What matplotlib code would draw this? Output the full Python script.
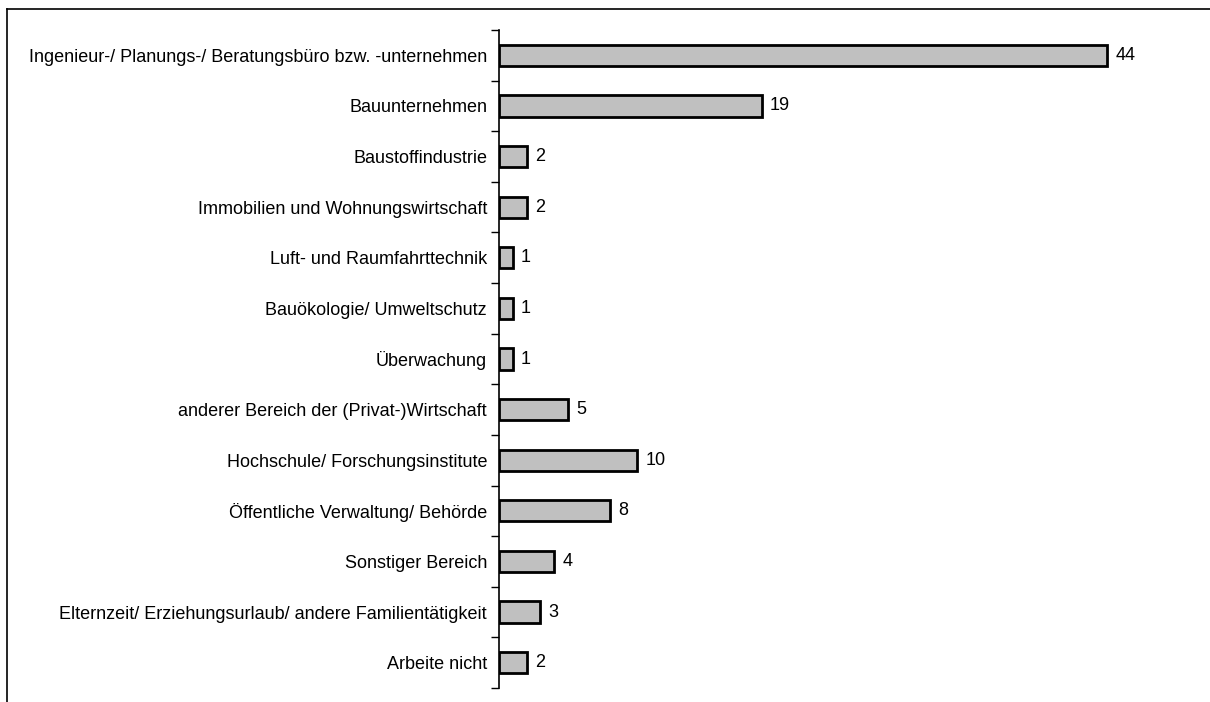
import numpy as np
import matplotlib
matplotlib.use("Agg")
import matplotlib.pyplot as plt
from matplotlib.lines import Line2D

categories = [
    "Ingenieur-/ Planungs-/ Beratungsbüro bzw. -unternehmen",
    "Bauunternehmen",
    "Baustoffindustrie",
    "Immobilien und Wohnungswirtschaft",
    "Luft- und Raumfahrttechnik",
    "Bauökologie/ Umweltschutz",
    "Überwachung",
    "anderer Bereich der (Privat-)Wirtschaft",
    "Hochschule/ Forschungsinstitute",
    "Öffentliche Verwaltung/ Behörde",
    "Sonstiger Bereich",
    "Elternzeit/ Erziehungsurlaub/ andere Familientätigkeit",
    "Arbeite nicht",
]
values = [44, 19, 2, 2, 1, 1, 1, 5, 10, 8, 4, 3, 2]

plt.rcParams['font.family'] = ['Liberation Sans', 'DejaVu Sans']

fig = plt.figure(figsize=(12.1, 7.02), dpi=100)
W, H = 1210, 702
left, right, top, bottom = 499, 1190, 30, 688
ax = fig.add_axes([left / W, 1 - bottom / H, (right - left) / W, (bottom - top) / H])

y = np.arange(len(categories))
ax.barh(y, values, height=0.42, color="#c0c0c0", edgecolor="black", linewidth=2.0)
for yi, v in zip(y, values):
    ax.text(v + 0.6, yi, str(v), va="center", ha="left", fontsize=13)

ax.set_xlim(0, 50)
ax.set_ylim(len(categories) - 0.5, -0.5)
ax.set_yticks(y)
ax.set_yticklabels(categories, fontsize=13)
ax.tick_params(axis="y", which="major", length=0, pad=8.6)
ax.set_yticks(np.arange(len(categories) + 1) - 0.5, minor=True)
ax.tick_params(axis="y", which="minor", length=6, width=1, direction="out")
ax.set_xticks([])
for s in ["top", "right", "bottom"]:
    ax.spines[s].set_visible(False)
ax.spines["left"].set_linewidth(1.2)

# outer frame (only top and left visible in the reference)
fig.add_artist(Line2D([7 / W, 7 / W], [0, 1 - 9 / H], transform=fig.transFigure, color="black", lw=1.2))
fig.add_artist(Line2D([7 / W, 1], [1 - 9 / H, 1 - 9 / H], transform=fig.transFigure, color="black", lw=1.2))

fig.savefig("out.png", dpi=100)
